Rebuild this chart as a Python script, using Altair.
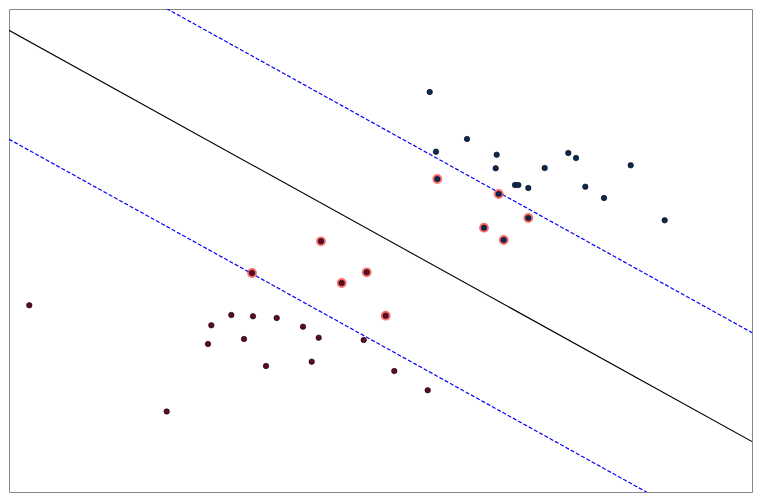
import altair as alt
import pandas as pd
import numpy as np

# Class A (dark red) points
a_x = [29.3, 166.7, 208, 211.3, 231.3, 244, 253, 266, 276.7, 303, 311.7, 318.7, 363.7, 394.3, 427.7,
       252, 321, 341.7, 366.7, 385.7]
a_y = [305.3, 411.5, 344, 325.3, 315, 339, 316.3, 366, 318, 326.7, 361.7, 337.7, 340, 371, 390.3,
       273, 241.3, 283, 272.3, 315.7]
a_sv = [0]*15 + [1]*5

# Class B (dark blue) points
b_x = [429.7, 467, 436, 496.7, 495.7, 544.7, 568.3, 576, 630.7, 515, 518.3, 528.3, 585.3, 604, 664.7,
       437.3, 498.7, 528.3, 484, 503.7]
b_y = [92, 139, 151.7, 154.7, 168.3, 168, 153, 158, 165.3, 185, 185, 188, 186.7, 198, 220.3,
       179, 194, 218, 227.7, 240]
b_sv = [0]*15 + [1]*5

# Separating line: y = intercept + slope * x (data units), margins offset
slope = -0.5535
intercept = 461.7
margin = 108.9
x_min, x_max = 0.0, 743.0
y_min, y_max = 0.0, 483.0

def to_data(px, py):
    return [p - 9 for p in px], [492 - q for q in py]

ax, ay = to_data(a_x, a_y)
bx, by = to_data(b_x, b_y)

pts = pd.DataFrame({
    "x": ax + bx,
    "y": ay + by,
    "cls": ["A"]*len(ax) + ["B"]*len(bx),
    "sv": a_sv + b_sv,
})

lines = []
for name, off in [("decision", 0.0), ("upper", margin), ("lower", -margin)]:
    for xv in (x_min, x_max):
        lines.append({"x": xv, "y": intercept + off + slope * xv, "line": name})
lines = pd.DataFrame(lines)

xs = alt.Scale(domain=[x_min, x_max], nice=False, zero=False)
ys = alt.Scale(domain=[y_min, y_max], nice=False, zero=False)
X = alt.X("x:Q", scale=xs, axis=None)
Y = alt.Y("y:Q", scale=ys, axis=None)

dec = alt.Chart(lines).transform_filter(alt.datum.line == "decision").mark_line(
    color="black", strokeWidth=1.1, clip=True).encode(x=X, y=Y)
marg = alt.Chart(lines).transform_filter(alt.datum.line != "decision").mark_line(
    color="#0000ff", strokeWidth=1.2, strokeDash=[4, 2], clip=True).encode(x=X, y=Y, detail="line:N")

ring = alt.Chart(pts).transform_filter(alt.datum.sv == 1).mark_point(
    shape="circle", filled=False, size=58, stroke="#ff3030", strokeWidth=2.2, opacity=0.7).encode(x=X, y=Y)

dots = alt.Chart(pts).mark_point(shape="circle", filled=True, size=30, stroke="black",
                                  strokeWidth=0.6, opacity=1).encode(
    x=X, y=Y,
    fill=alt.Fill("cls:N", scale=alt.Scale(domain=["A", "B"], range=["#5e0a28", "#0b2a52"]), legend=None),
)

chart = alt.layer(dec, marg, ring, dots).properties(
    width=743, height=483, padding=1, background="white"
).configure_view(stroke="#888888", strokeWidth=1)

chart.save("out.html", embed_options={"renderer": "svg", "actions": False})
